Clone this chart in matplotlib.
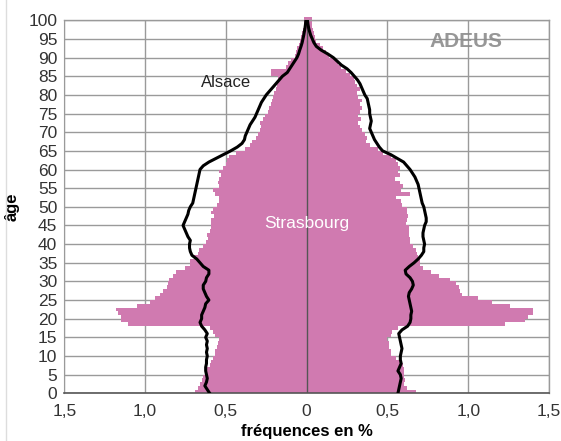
import numpy as np
from matplotlib import pyplot as plt
from matplotlib.lines import Line2D

ages = list(range(0, 101))

# Strasbourg, left side (hommes), in %
strasbourg_h = [
    0.69, 0.675, 0.66, 0.645, 0.64, 0.625, 0.62, 0.60, 0.59, 0.58,
    0.57, 0.57, 0.555, 0.55, 0.54, 0.57, 0.58, 0.60, 1.105, 1.147,
    1.147, 1.167, 1.18, 1.05, 0.97, 0.94, 0.91, 0.89, 0.865, 0.86,
    0.85, 0.825, 0.81, 0.75, 0.72, 0.72, 0.695, 0.675, 0.665, 0.64,
    0.62, 0.61, 0.615, 0.60, 0.595, 0.59, 0.59, 0.575, 0.59, 0.58,
    0.555, 0.54, 0.54, 0.57, 0.58, 0.54, 0.55, 0.54, 0.53, 0.54,
    0.52, 0.50, 0.49, 0.48, 0.435, 0.38, 0.35, 0.34, 0.315, 0.30,
    0.29, 0.28, 0.29, 0.27, 0.26, 0.24, 0.23, 0.22, 0.215, 0.21,
    0.20, 0.19, 0.185, 0.18, 0.175, 0.22, 0.22, 0.125, 0.115, 0.095,
    0.075, 0.068, 0.06, 0.047, 0.043, 0.033, 0.027, 0.022, 0.018, 0.018,
    0.018,
]

# Strasbourg, right side (femmes), in %
strasbourg_f = [
    0.675, 0.62, 0.60, 0.61, 0.605, 0.60, 0.605, 0.595, 0.59, 0.555,
    0.52, 0.52, 0.51, 0.51, 0.50, 0.52, 0.53, 0.565, 1.23, 1.35,
    1.37, 1.40, 1.40, 1.26, 1.15, 1.06, 0.96, 0.95, 0.94, 0.925,
    0.89, 0.82, 0.77, 0.72, 0.70, 0.70, 0.69, 0.68, 0.675, 0.66,
    0.64, 0.64, 0.635, 0.635, 0.635, 0.615, 0.62, 0.625, 0.62, 0.62,
    0.59, 0.585, 0.555, 0.64, 0.585, 0.595, 0.575, 0.545, 0.575, 0.565,
    0.575, 0.565, 0.555, 0.525, 0.47, 0.44, 0.39, 0.37, 0.375, 0.36,
    0.34, 0.33, 0.32, 0.335, 0.32, 0.33, 0.34, 0.33, 0.34, 0.32,
    0.31, 0.33, 0.31, 0.30, 0.29, 0.27, 0.245, 0.215, 0.195, 0.175,
    0.14, 0.12, 0.10, 0.08, 0.06, 0.05, 0.045, 0.04, 0.035, 0.035,
    0.035,
]

# Alsace, left side
alsace_h = [
    0.60, 0.615, 0.63, 0.62, 0.615, 0.62, 0.625, 0.625, 0.62, 0.62,
    0.615, 0.62, 0.615, 0.62, 0.615, 0.625, 0.615, 0.63, 0.65, 0.66,
    0.65, 0.65, 0.64, 0.63, 0.625, 0.605, 0.62, 0.63, 0.64, 0.64,
    0.625, 0.62, 0.605, 0.605, 0.64, 0.66, 0.68, 0.71, 0.72, 0.725,
    0.725, 0.72, 0.735, 0.745, 0.755, 0.765, 0.755, 0.745, 0.735, 0.73,
    0.72, 0.705, 0.70, 0.695, 0.69, 0.685, 0.68, 0.675, 0.67, 0.665,
    0.66, 0.64, 0.605, 0.56, 0.515, 0.47, 0.43, 0.40, 0.385, 0.38,
    0.37, 0.36, 0.35, 0.335, 0.32, 0.31, 0.30, 0.29, 0.28, 0.265,
    0.25, 0.23, 0.21, 0.19, 0.17, 0.15, 0.12, 0.105, 0.09, 0.075,
    0.06, 0.05, 0.043, 0.035, 0.028, 0.023, 0.018, 0.014, 0.01, 0.007,
    0.005,
]

# Alsace, right side
alsace_f = [
    0.565, 0.57, 0.575, 0.58, 0.585, 0.58, 0.565, 0.575, 0.585, 0.58,
    0.58, 0.585, 0.59, 0.585, 0.58, 0.575, 0.57, 0.59, 0.625, 0.64,
    0.645, 0.645, 0.65, 0.645, 0.64, 0.635, 0.63, 0.635, 0.65, 0.66,
    0.655, 0.64, 0.615, 0.61, 0.635, 0.665, 0.69, 0.71, 0.725, 0.725,
    0.73, 0.725, 0.72, 0.72, 0.725, 0.73, 0.74, 0.74, 0.735, 0.73,
    0.725, 0.715, 0.71, 0.705, 0.70, 0.695, 0.69, 0.68, 0.67, 0.655,
    0.64, 0.62, 0.60, 0.56, 0.52, 0.47, 0.45, 0.435, 0.42, 0.41,
    0.40, 0.39, 0.395, 0.40, 0.395, 0.39, 0.39, 0.385, 0.38, 0.375,
    0.36, 0.35, 0.34, 0.33, 0.315, 0.295, 0.275, 0.25, 0.215, 0.19,
    0.165, 0.13, 0.09, 0.06, 0.045, 0.035, 0.025, 0.018, 0.012, 0.008,
    0.005,
]

x_ticks = [-1.5, -1.0, -0.5, 0, 0.5, 1.0, 1.5]
x_tick_labels = ["1,5", "1,0", "0,5", "0", "0,5", "1,0", "1,5"]
y_ticks = list(range(0, 101, 5))

pink = "#d07ab0"
grid_color = "#9a9a9a"
text_color = "#333333"

plt.rcParams["font.family"] = ["Liberation Sans", "DejaVu Sans"]

fig = plt.figure(figsize=(5.61, 4.41), dpi=100)
ax = fig.add_axes([64.3 / 561, 47.7 / 441, 484.7 / 561, 373 / 441])

ax.barh(ages, [-v for v in strasbourg_h], height=1, align="edge",
        color=pink, linewidth=0, zorder=2, clip_on=False)
ax.barh(ages, strasbourg_f, height=1, align="edge",
        color=pink, linewidth=0, zorder=2, clip_on=False)

ax.axvline(0, color="#555555", lw=1.0, zorder=3)

ax.plot([-v for v in alsace_h], ages, color="black", lw=2.2, zorder=4,
        solid_joinstyle="round")
ax.plot(alsace_f, ages, color="black", lw=2.2, zorder=4,
        solid_joinstyle="round")

ax.set_xlim(-1.5, 1.5)
ax.set_ylim(0, 100)
ax.set_xticks(x_ticks)
ax.set_xticklabels(x_tick_labels)
ax.set_yticks(y_ticks)
ax.tick_params(length=0, labelsize=12.5, colors=text_color)
ax.tick_params(axis="y", pad=5)
ax.tick_params(axis="x", pad=8)

ax.grid(True, color=grid_color, lw=1.0, zorder=0)
ax.set_axisbelow(True)
for side in ["top", "right"]:
    ax.spines[side].set_color(grid_color)
    ax.spines[side].set_linewidth(1.0)
ax.spines["left"].set_color(grid_color)
ax.spines["bottom"].set_color("#555555")
ax.spines["bottom"].set_linewidth(1.2)

ax.set_xlabel("fréquences en %", fontsize=12, fontweight="bold", labelpad=3)
ax.set_ylabel("âge", fontsize=12, fontweight="bold", labelpad=6)

ax.text(-0.50, 83.2, "Alsace", fontsize=12, color="#222222",
        ha="center", va="center", zorder=5)
ax.text(0.0, 45.4, "Strasbourg", fontsize=12.5, color="white",
        ha="center", va="center", zorder=5)
ax.text(0.985, 94.3, "ADEUS", fontsize=15, fontweight="bold", color="#8c8c8c",
        ha="center", va="center", zorder=5, alpha=0.9)

# thin frame line at the left of the picture
fig.add_artist(Line2D([6 / 561, 6 / 561], [0, 1], color="#dddddd", lw=1,
                      transform=fig.transFigure))

fig.savefig("out.png", dpi=100)
